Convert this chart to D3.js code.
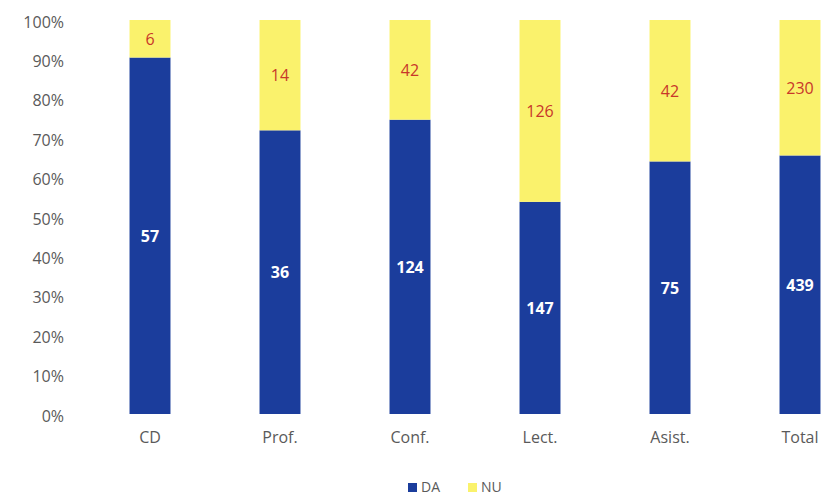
<!DOCTYPE html>
<html>
<head>
<meta charset="utf-8">
<script src="https://cdn.jsdelivr.net/npm/d3@7"></script>
<style>
  body { margin: 0; background: #fff; }
  text { font-family: "Open Sans", "Liberation Sans", sans-serif; }
</style>
</head>
<body>
<svg id="chart" width="830" height="495"></svg>
<script>
// data
var categories = ["CD", "Prof.", "Conf.", "Lect.", "Asist.", "Total"];
var daValues = [57, 36, 124, 147, 75, 439];
var nuValues = [6, 14, 42, 126, 42, 230];
var seriesNames = ["DA", "NU"];
var tickLabels = [0, 0.1, 0.2, 0.3, 0.4, 0.5, 0.6, 0.7, 0.8, 0.9, 1];

var colors = { DA: "#1b3d9c", NU: "#faf26c" };

var svg = d3.select("#chart");
var plotTop = 20, plotBottom = 414;

// build rows for d3.stack (shares of each column)
var rows = categories.map(function(c, i) {
  var tot = daValues[i] + nuValues[i];
  return { cat: c, DA: daValues[i] / tot, NU: nuValues[i] / tot, rawDA: daValues[i], rawNU: nuValues[i] };
});
var stacked = d3.stack().keys(seriesNames)(rows);

var x = d3.scaleBand()
  .domain(categories)
  .range([85, 865])
  .paddingInner(0.685)
  .paddingOuter(0.3425);

var y = d3.scaleLinear().domain([0, 1]).range([plotBottom, plotTop]);

// y axis, labels only
var yAxis = d3.axisLeft(y)
  .tickValues(tickLabels)
  .tickFormat(d3.format(".0%"))
  .tickSize(0)
  .tickPadding(0);
var gy = svg.append("g").attr("transform", "translate(64,2)").call(yAxis);
gy.select(".domain").remove();
gy.selectAll("text").attr("font-size", 16).attr("fill", "#5a5a5a").style("font-family", "'Open Sans', sans-serif");

// x labels
var xAxis = d3.axisBottom(x).tickSize(0).tickPadding(0);
var gx = svg.append("g").attr("transform", "translate(0,432)").call(xAxis);
gx.select(".domain").remove();
gx.selectAll("text").attr("font-size", 16).attr("fill", "#5a5a5a").style("font-family", "'Open Sans', sans-serif");

// bars
var layers = svg.selectAll(".layer").data(stacked).enter().append("g")
  .attr("class", "layer")
  .attr("fill", function(d) { return colors[d.key]; });

layers.selectAll("rect").data(function(d) { return d; }).enter().append("rect")
  .attr("x", function(d) { return x(d.data.cat); })
  .attr("width", x.bandwidth())
  .attr("y", function(d) { return y(d[1]); })
  .attr("height", function(d) { return y(d[0]) - y(d[1]); });

// value labels
layers.each(function(layer) {
  d3.select(this).selectAll("text").data(layer).enter().append("text")
    .attr("x", function(d) { return x(d.data.cat) + x.bandwidth() / 2; })
    .attr("y", function(d) { return (y(d[0]) + y(d[1])) / 2 + 6; })
    .attr("text-anchor", "middle")
    .attr("font-size", 16)
    .attr("font-weight", layer.key === "DA" ? "bold" : "normal")
    .attr("fill", layer.key === "DA" ? "#fff" : "#c8372a")
    .text(function(d) { return layer.key === "DA" ? d.data.rawDA : d.data.rawNU; });
});

// legend
var legend = svg.append("g").attr("transform", "translate(408,482)");
var li = legend.selectAll("g").data(seriesNames).enter().append("g")
  .attr("transform", function(d, i) { return "translate(" + (i * 60) + ",0)"; });
li.append("rect").attr("width", 9).attr("height", 9).attr("y", 1)
  .attr("fill", function(d) { return colors[d]; });
li.append("text").attr("x", 13).attr("y", 10).attr("font-size", 14).attr("fill", "#5a5a5a")
  .text(function(d) { return d; });
</script>
</body>
</html>
